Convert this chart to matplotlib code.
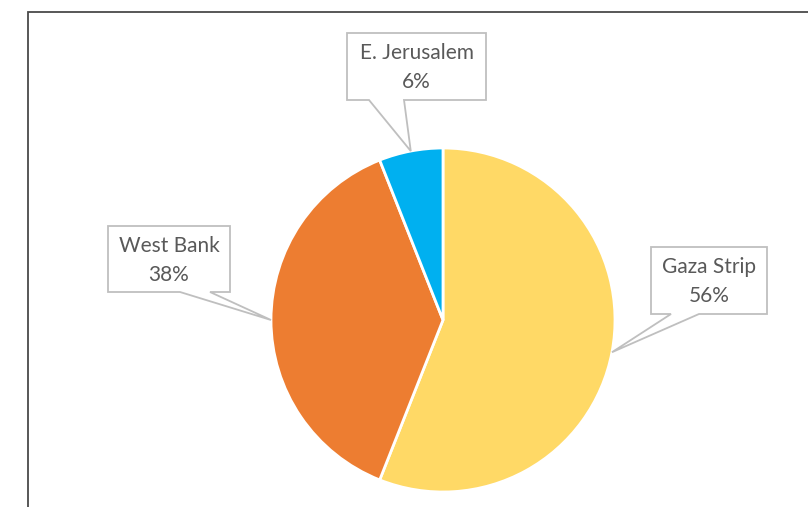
import matplotlib
matplotlib.use("Agg")
import matplotlib.pyplot as plt
from matplotlib.patches import Polygon
import numpy as np

# Share of population by region
regions = ["Gaza Strip", "West Bank", "E. Jerusalem"]
shares = [56, 38, 6]
colors = ["#FFD966", "#ED7D31", "#00B0F0"]

W, H = 808, 507
fig = plt.figure(figsize=(W / 100, H / 100), dpi=100)
ax = fig.add_axes([0, 0, 1, 1])

# Chart frame (partially outside the canvas)
ax.plot([28, 28, W + 5], [-5, H - 12, H - 12], color="#4a4a4a", lw=1.3,
        solid_joinstyle="miter")

cx, cy, r = 443, H - 320, 172
wedges, _ = ax.pie(shares, colors=colors, startangle=90, counterclock=False,
                   center=(cx, cy), radius=r,
                   wedgeprops=dict(edgecolor="white", linewidth=2))
ax.set_xlim(0, W)
ax.set_ylim(0, H)
ax.set_aspect("equal")
ax.axis("off")

# Callout boxes: (left, top, right, bottom) in pixels, pointer base span on bottom edge
boxes = {
    "E. Jerusalem": ((347, 33, 486, 100), (369, 404)),
    "West Bank": ((108, 226, 230, 292), (180, 210)),
    "Gaza Strip": ((651, 247, 767, 314), (671, 699)),
}

for w, name, val in zip(wedges, regions, shares):
    mid = np.deg2rad((w.theta1 + w.theta2) / 2)
    tx, ty = cx + r * np.cos(mid), cy + r * np.sin(mid)
    (l, t, rr, b), (p0, p1) = boxes[name]
    t, b = H - t, H - b
    pts = [(l, t), (rr, t), (rr, b), (p1, b), (tx, ty), (p0, b), (l, b)]
    ax.add_patch(Polygon(pts, closed=True, facecolor="white",
                         edgecolor="#BFBFBF", lw=1.3, zorder=5))
    xc = (l + rr) / 2
    ax.text(xc, t - 20, name, ha="center", va="center", fontsize=15,
            family="Lato", color="#595959", zorder=6)
    ax.text(xc, t - 49, f"{val}%", ha="center", va="center", fontsize=15,
            family="Lato", color="#595959", zorder=6)

fig.savefig("out.png", dpi=100)
